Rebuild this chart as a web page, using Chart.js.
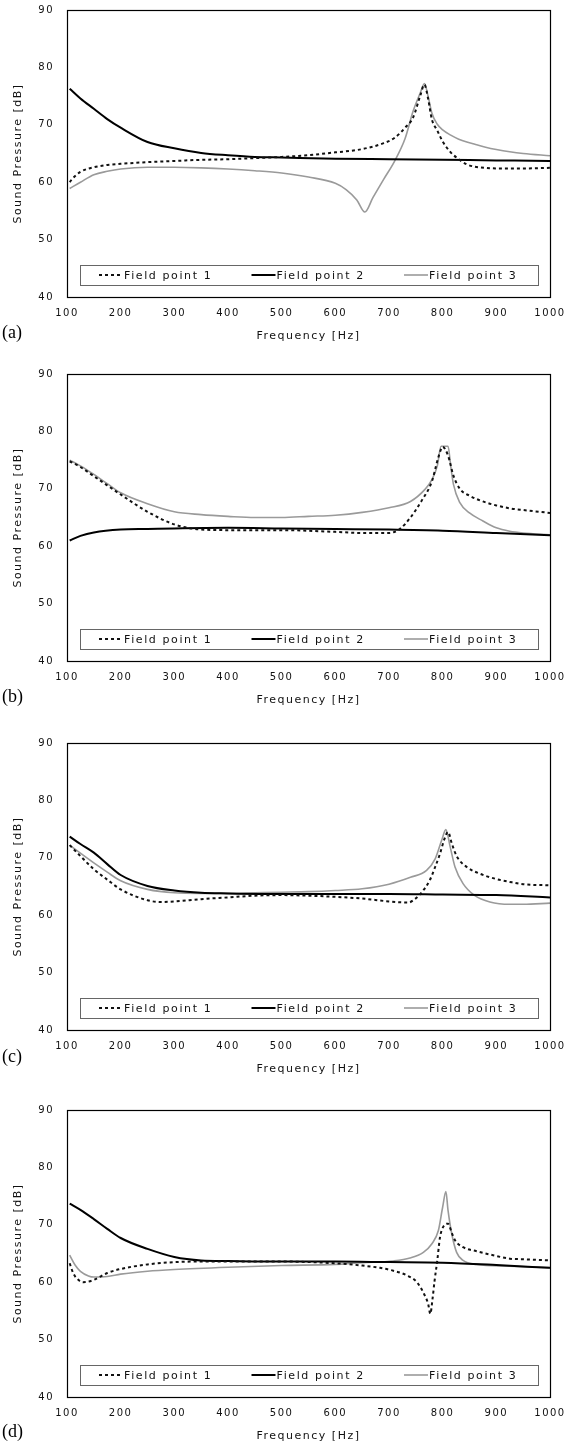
<!DOCTYPE html>
<html>
<head>
<meta charset="utf-8">
<script src="https://cdn.jsdelivr.net/npm/chart.js@4.4.1/dist/chart.umd.min.js"></script>
<style>
  body { margin: 0; background: #fff; width: 564px; height: 1445px; position: relative; overflow: hidden; }
  .panel { position: absolute; left: 0; width: 564px; height: 345px; }
  .tag { position: absolute; left: 2px; font-family: "Liberation Serif", serif; font-size: 18px; color: #000; }
</style>
</head>
<body>
<div class="panel" style="top:0px"><canvas id="chart-a" width="564" height="345"></canvas></div>
<div class="panel" style="top:364px"><canvas id="chart-b" width="564" height="345"></canvas></div>
<div class="panel" style="top:733px"><canvas id="chart-c" width="564" height="345"></canvas></div>
<div class="panel" style="top:1100px"><canvas id="chart-d" width="564" height="345"></canvas></div>
<div class="tag" style="top:322px">(a)</div>
<div class="tag" style="top:686px">(b)</div>
<div class="tag" style="top:1046px">(c)</div>
<div class="tag" style="top:1421px">(d)</div>

<script>
// series names
const seriesNames = ['Field point 1', 'Field point 2', 'Field point 3'];

// panel (a)
const a1Hz = [105,110,125,150,175,200,250,300,350,400,450,500,550,600,640,670,690,710,730,745,758,766,773,780,790,800,815,830,845,860,880,900,950,1000];
const a1dB = [60.0,60.6,61.8,62.6,63.0,63.2,63.5,63.7,63.9,64.0,64.2,64.4,64.7,65.2,65.6,66.2,66.8,67.7,69.5,71.3,75.0,77.0,74.5,70.9,69.0,67.1,65.2,64.0,63.1,62.7,62.5,62.4,62.4,62.5];
const a2Hz = [105,125,150,175,200,250,300,350,400,450,500,600,700,800,900,1000];
const a2dB = [76.3,74.6,72.8,71.0,69.5,67.0,65.9,65.1,64.7,64.4,64.3,64.1,64.0,63.9,63.8,63.7];
const a3Hz = [105,125,150,175,200,250,300,350,400,450,500,550,600,620,640,655,670,690,710,730,745,758,766,773,780,790,800,815,830,845,860,880,900,925,950,1000];
const a3dB = [58.9,60.0,61.3,61.9,62.3,62.6,62.6,62.5,62.3,62.0,61.6,60.9,59.8,58.7,56.9,54.8,57.3,60.5,63.6,67.6,72.4,75.5,77.2,74.9,72.0,70.1,69.1,68.2,67.5,67.0,66.6,66.1,65.7,65.3,65.0,64.6];

// panel (b)
const b1Hz = [105,125,150,175,200,250,300,350,400,500,600,650,700,720,740,760,780,792,800,810,820,832,850,875,900,925,950,1000];
const b1dB = [74.8,73.8,72.2,70.6,69.0,66.0,63.8,62.9,62.8,62.8,62.5,62.3,62.3,63.0,65.0,67.8,71.3,75.5,77.3,75.8,72.3,70.0,68.8,67.8,67.1,66.6,66.3,65.8];
const b2Hz = [105,125,150,200,250,300,400,500,600,700,800,900,1000];
const b2dB = [61.0,61.8,62.4,62.9,63.0,63.1,63.2,63.1,63.0,62.9,62.7,62.3,61.9];
const b3Hz = [105,125,150,175,200,250,300,350,400,450,500,550,600,650,700,740,767,780,790,797,810,815,820,832,850,875,900,925,950,1000];
const b3dB = [75.0,74.0,72.5,70.9,69.3,67.4,66.0,65.5,65.2,65.0,65.0,65.2,65.4,65.9,66.7,67.8,69.9,71.6,74.0,77.4,77.4,74.0,70.8,67.6,65.8,64.4,63.2,62.6,62.3,62.0];

// panel (c)
const c1Hz = [105,125,150,175,200,250,275,300,350,400,450,500,550,600,650,700,736,748,761,776,786,795,803,810,817,826,845,870,900,925,950,1000];
const c1dB = [72.2,70.3,68.0,66.2,64.5,62.6,62.3,62.4,62.8,63.1,63.4,63.5,63.4,63.2,62.9,62.4,62.2,62.8,64.0,66.1,68.4,70.7,73.2,74.5,72.5,70.3,68.4,67.2,66.3,65.8,65.4,65.2];
const c2Hz = [105,125,150,175,200,250,300,350,400,500,600,700,800,900,1000];
const c2dB = [73.7,72.4,70.9,68.9,67.0,65.1,64.3,63.9,63.8,63.7,63.7,63.7,63.6,63.5,63.1];
const c3Hz = [105,125,150,175,200,250,300,350,400,450,500,550,600,650,700,740,770,786,798,806,814,823,838,860,888,925,950,1000];
const c3dB = [72.2,70.8,69.1,67.5,66.0,64.5,63.9,63.8,63.8,63.9,64.0,64.1,64.3,64.6,65.4,66.6,67.8,69.8,73.0,74.9,71.9,68.4,65.5,63.4,62.3,61.9,61.9,62.1];

// panel (d)
const d1Hz = [105,112,120,130,140,150,175,200,250,300,350,400,500,600,650,683,708,733,752,764,773,777,781,785,790,795,802,810,817,823,838,863,894,925,950,1000];
const d1dB = [63.3,61.5,60.5,60.0,60.1,60.4,61.6,62.3,63.1,63.5,63.6,63.6,63.6,63.3,62.9,62.5,62.0,61.2,60.0,58.2,56.2,54.5,57.0,60.3,63.8,67.8,69.8,70.2,68.6,67.3,66.1,65.4,64.7,64.1,64.0,63.8];
const d2Hz = [105,125,150,175,200,250,300,350,400,500,600,700,800,900,1000];
const d2dB = [73.7,72.6,71.0,69.3,67.7,65.8,64.4,63.8,63.7,63.6,63.6,63.5,63.4,63.0,62.5];
const d3Hz = [105,115,125,140,150,175,200,250,300,400,500,600,650,708,739,764,780,792,800,806,810,817,826,838,863,925,1000];
const d3dB = [64.7,63.0,61.9,61.1,60.9,61.0,61.4,61.9,62.2,62.6,62.9,63.1,63.4,63.7,64.2,65.2,66.7,69.0,73.1,75.8,72.5,68.4,65.2,63.8,63.1,62.8,62.5];

const fontFamily = '"DejaVu Sans", sans-serif';
Chart.defaults.font.family = fontFamily;
Chart.defaults.color = '#111';

// line looks for the three field points
const lineStyles = [
    { borderColor: '#111', borderWidth: 2, borderDash: [3, 3] },
    { borderColor: '#000', borderWidth: 2, borderDash: [] },
    { borderColor: '#9a9a9a', borderWidth: 1.6, borderDash: [] }
];

// wide letters like the original figure
const spacing = {
    id: 'spacing',
    beforeDraw(chart) {
        chart.ctx.letterSpacing = '1.5px';
    }
};

// box around the plot area
const frame = {
    id: 'frame',
    afterDatasetsDraw(chart) {
        const { ctx, chartArea: a } = chart;
        ctx.save();
        ctx.strokeStyle = '#000';
        ctx.lineWidth = 1.2;
        ctx.setLineDash([]);
        ctx.strokeRect(Math.round(a.left) + 0.5, Math.round(a.top) + 0.5,
            Math.round(a.right - a.left), Math.round(a.bottom - a.top));
        ctx.restore();
    }
};

// legend drawn inside the plot, near the bottom
const boxLegend = {
    id: 'boxLegend',
    afterDraw(chart) {
        const { ctx, chartArea: a } = chart;
        const x0 = a.left + 13, x1 = a.right - 12;
        const y1 = a.bottom - 12, y0 = y1 - 20;
        const ym = (y0 + y1) / 2;
        ctx.save();
        ctx.fillStyle = '#fff';
        ctx.fillRect(x0, y0, x1 - x0, y1 - y0);
        ctx.strokeStyle = '#666';
        ctx.lineWidth = 1;
        ctx.strokeRect(Math.round(x0) + 0.5, Math.round(y0) + 0.5, Math.round(x1 - x0), Math.round(y1 - y0));
        chart.data.datasets.forEach((ds, i) => {
            const sx = x0 + 19 + i * 152.5;
            ctx.beginPath();
            ctx.setLineDash(ds.borderDash || []);
            ctx.strokeStyle = ds.borderColor;
            ctx.lineWidth = ds.borderWidth;
            ctx.moveTo(sx, ym);
            ctx.lineTo(sx + 24, ym);
            ctx.stroke();
            ctx.setLineDash([]);
            ctx.fillStyle = '#111';
            ctx.font = '11px ' + fontFamily;
            ctx.letterSpacing = '1.6px';
            ctx.textAlign = 'left';
            ctx.textBaseline = 'middle';
            ctx.fillText(ds.label, sx + 25, ym + 1);
        });
        ctx.restore();
    }
};

function toPoints(hz, db) {
    return hz.map((f, i) => ({ x: f, y: db[i] }));
}

function makePanel(id, series) {
    const ctx = document.getElementById(id).getContext('2d');
    new Chart(ctx, {
        type: 'line',
        data: {
            datasets: series.map((s, i) => ({
                label: seriesNames[i],
                data: toPoints(s[0], s[1]),
                borderColor: lineStyles[i].borderColor,
                borderWidth: lineStyles[i].borderWidth,
                borderDash: lineStyles[i].borderDash,
                pointRadius: 0,
                fill: false,
                cubicInterpolationMode: 'monotone'
            }))
        },
        options: {
            responsive: false,
            animation: false,
            layout: { padding: { top: 10, right: 14, left: 0, bottom: 0 } },
            plugins: {
                legend: { display: false },
                tooltip: { enabled: false }
            },
            scales: {
                x: {
                    type: 'linear',
                    min: 100,
                    max: 1000,
                    grid: { display: false, drawTicks: false },
                    border: { display: false },
                    ticks: {
                        stepSize: 100, padding: 10, maxRotation: 0,
                        font: { size: 10 }, color: '#111',
                        callback: (v) => String(v)
                    },
                    title: {
                        display: true,
                        text: 'Frequency [Hz]',
                        font: { size: 11 },
                        padding: { top: 0, bottom: 2 }
                    },
                    afterFit(scale) {
                        scale.height = 48;
                        scale.paddingLeft = 0;
                        scale.paddingRight = 0;
                    }
                },
                y: {
                    min: 40,
                    max: 90,
                    grid: { display: false, drawTicks: false },
                    border: { display: false },
                    ticks: { stepSize: 10, padding: 13, font: { size: 10 }, color: '#111' },
                    title: {
                        display: true,
                        text: 'Sound Pressure [dB]',
                        font: { size: 11 },
                        padding: { top: 12, bottom: 0 }
                    },
                    afterFit(scale) {
                        scale.width = 67;
                        scale.paddingTop = 0;
                        scale.paddingBottom = 0;
                    }
                }
            }
        },
        plugins: [spacing, frame, boxLegend]
    });
}

makePanel('chart-a', [[a1Hz, a1dB], [a2Hz, a2dB], [a3Hz, a3dB]]);
makePanel('chart-b', [[b1Hz, b1dB], [b2Hz, b2dB], [b3Hz, b3dB]]);
makePanel('chart-c', [[c1Hz, c1dB], [c2Hz, c2dB], [c3Hz, c3dB]]);
makePanel('chart-d', [[d1Hz, d1dB], [d2Hz, d2dB], [d3Hz, d3dB]]);
</script>
</body>
</html>
